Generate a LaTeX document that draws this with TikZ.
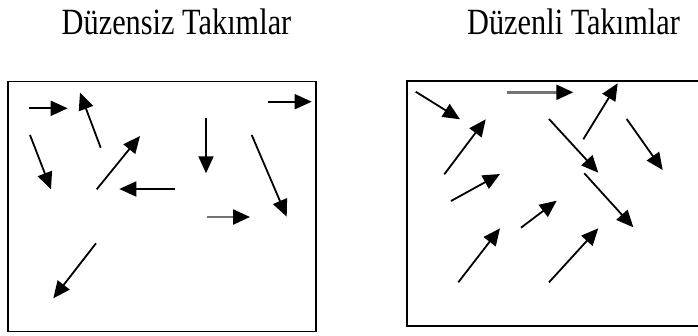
\documentclass[tikz,border=0pt]{standalone}
\usepackage{fontspec}
\setmainfont{Liberation Serif}
\usetikzlibrary{arrows.meta}
\tikzset{
  vec/.style={line width=1.8pt, -{Triangle[length=17pt,width=15pt]}},
  grayvec/.style={line width=2.4pt, draw=black!55, -{Triangle[length=17pt,width=15pt,fill=black,color=black]}},
  frame/.style={line width=1.8pt},
  title/.style={anchor=base, inner sep=0pt, font=\fontsize{37}{40}\selectfont, xscale=0.82}
}
\begin{document}
\begin{tikzpicture}[x=1pt,y=-1pt]
\useasboundingbox (0,0) rectangle (698,335);
% titles
\node[title] (t1) at (176.5,34.3) {Düzensiz Takımlar};
\node[title] (t2) at (573.5,34.3) {Düzenli Takımlar};
% left frame
\draw[frame] (8.3,81.5) rectangle (316,331.5);
% right frame (open on the right)
\draw[frame] (705,81) -- (406.7,81) -- (406.7,326) -- (705,326);
% left arrows (random)
\draw[vec] (29.3,108.3) -- (67.7,108.3);
\draw[vec] (100.7,147.7) -- (80,92.7);
\draw[vec] (30,135) -- (51,189.3);
\draw[vec] (96.7,189.3) -- (140,136);
\draw[vec] (175,189) -- (119.3,189);
\draw[vec] (206,118.3) -- (206,173.3);
\draw[vec] (268.3,101.7) -- (311.7,101.7);
\draw[vec] (251.7,135) -- (286.7,216.7);
\draw[grayvec] (206.7,217) -- (250,217);
\draw[vec] (96,243.3) -- (53.3,298.3);
% right arrows (ordered)
\draw[vec] (415.7,91.7) -- (460,119.3);
\draw[vec] (444.3,174.3) -- (485.7,119.3);
\draw[grayvec] (506.7,92.3) -- (573.3,92.3);
\draw[vec] (583.3,139.3) -- (617.7,83.3);
\draw[vec] (549,119) -- (598.3,172.7);
\draw[vec] (626.7,119) -- (662.7,170);
\draw[vec] (451,201) -- (500,174);
\draw[vec] (584.3,173.3) -- (633.3,227.3);
\draw[vec] (521,227.7) -- (556.7,200.7);
\draw[vec] (458.3,282.3) -- (500,228.3);
\draw[vec] (549,282.3) -- (598.3,228.3);
\end{tikzpicture}
\end{document}
